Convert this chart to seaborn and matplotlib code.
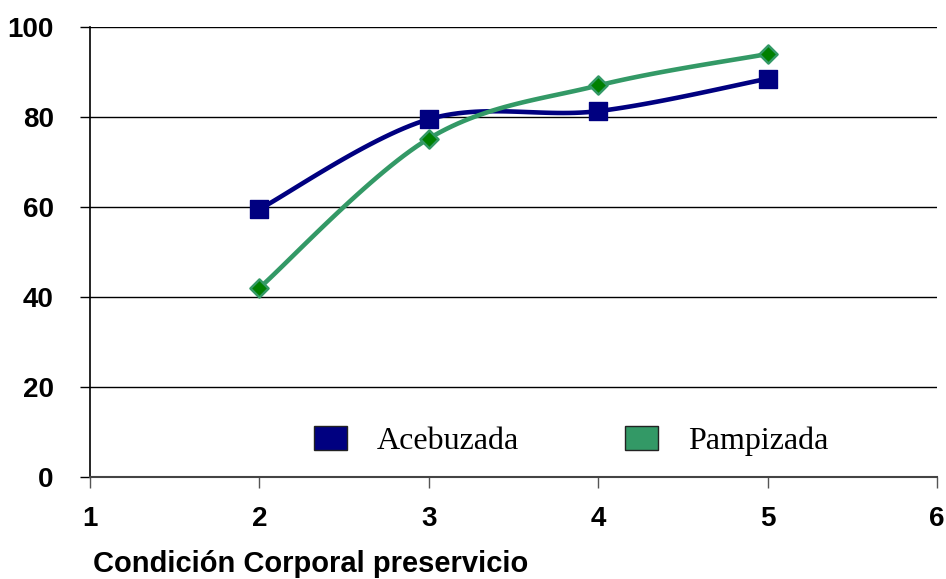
import numpy as np
import pandas as pd
import seaborn as sns
import matplotlib.pyplot as plt
from matplotlib.patches import Patch

# data
condicion = [2, 3, 4, 5]
acebuzada = [59.5, 79.5, 81.3, 88.5]
pampizada = [42.0, 75.2, 87.0, 94.0]
x_ticks = [1, 2, 3, 4, 5, 6]
y_ticks = [0, 20, 40, 60, 80, 100]


def smooth(xs, ys, n=30):
    # Excel-like smoothed line (cubic bezier, catmull-rom control points)
    p = np.column_stack([xs, ys]).astype(float)
    p = np.vstack([p[0], p, p[-1]])
    out = []
    t = np.linspace(0, 1, n)[:, None]
    for i in range(1, len(p) - 2):
        p0, p1, p2, p3 = p[i - 1], p[i], p[i + 1], p[i + 2]
        c1 = p1 + (p2 - p0) / 6
        c2 = p2 - (p3 - p1) / 6
        seg = ((1 - t) ** 3) * p1 + 3 * ((1 - t) ** 2) * t * c1 + 3 * (1 - t) * t ** 2 * c2 + t ** 3 * p2
        out.append(seg)
    return np.vstack(out)


sns.set_style("white")
plt.rcParams['font.family'] = ['Liberation Sans', 'DejaVu Sans']

fig = plt.figure(figsize=(9.46, 5.79), dpi=100)
ax = fig.add_axes([0.0951, 0.1762, 0.8954, 0.7772])

navy = "#000080"
green = "#339966"

for ys, col in [(acebuzada, navy), (pampizada, green)]:
    s = smooth(condicion, ys)
    df = pd.DataFrame({"x": s[:, 0], "y": s[:, 1]})
    sns.lineplot(data=df, x="x", y="y", sort=False, color=col, linewidth=3.3, ax=ax, zorder=3)

pts = pd.DataFrame({"x": condicion, "y": acebuzada})
sns.scatterplot(data=pts, x="x", y="y", marker="s", s=150, color=navy, edgecolor=navy, ax=ax, zorder=4)
pts = pd.DataFrame({"x": condicion, "y": pampizada})
sns.scatterplot(data=pts, x="x", y="y", marker="D", s=85, color="#008000", edgecolor=green,
                linewidth=1.8, ax=ax, zorder=4)

ax.set_xlim(1, 6)
ax.set_ylim(0, 100)
ax.set_xticks(x_ticks)
ax.set_yticks(y_ticks)
ax.set_xticklabels([str(v) for v in x_ticks], fontsize=20, fontweight="bold", color="black")
ax.set_yticklabels([str(v) for v in y_ticks], fontsize=20, fontweight="bold", color="black")
ax.tick_params(axis="y", length=7, width=1, color="black", pad=19, left=True)
ax.tick_params(axis="x", length=8, width=1, color="#555555", pad=13, bottom=True)
ax.yaxis.grid(True, color="black", linewidth=1)
ax.set_axisbelow(True)
ax.set_xlabel("")
ax.set_ylabel("")

for side in ["top", "right"]:
    ax.spines[side].set_visible(False)
ax.spines["left"].set_color("black")
ax.spines["left"].set_linewidth(1.2)
ax.spines["bottom"].set_color("#444444")
ax.spines["bottom"].set_linewidth(1.5)

handles = [Patch(facecolor=navy, edgecolor="#222222", label="Acebuzada"),
           Patch(facecolor=green, edgecolor="#222222", label="Pampizada")]
ax.legend(handles=handles, loc="center", bbox_to_anchor=(0.568, 0.08), ncol=2,
          frameon=False, prop={"family": "Liberation Serif", "size": 23},
          handlelength=1.03, handleheight=0.78, handletextpad=0.95, columnspacing=3.3,
          labelcolor="black")

fig.text(0.098, 0.012, "Condición Corporal preservicio", fontsize=21, fontweight="bold",
         ha="left", va="baseline", color="black")

fig.savefig("out.png", dpi=100)
